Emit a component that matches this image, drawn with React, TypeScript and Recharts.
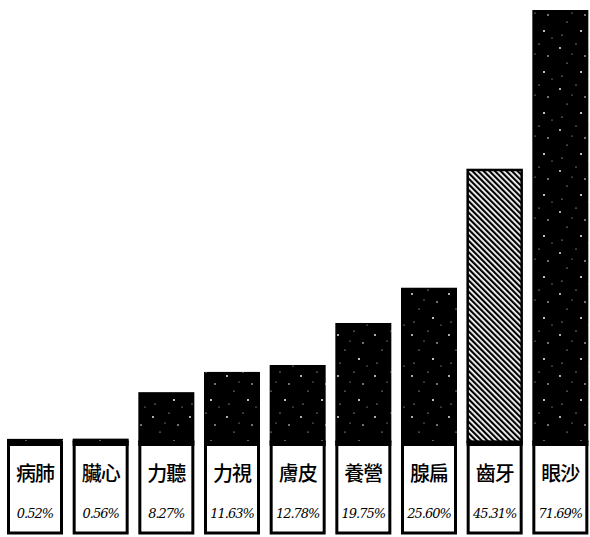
import React from 'react';
import { BarChart, Bar, XAxis, YAxis } from 'recharts';

const categories = ['病肺', '臟心', '力聽', '力視', '膚皮', '養營', '腺扁', '齒牙', '眼沙'];
const values = [0.52, 0.56, 8.27, 11.63, 12.78, 19.75, 25.6, 45.31, 71.69];
const valueLabels = ['0.52%', '0.56%', '8.27%', '11.63%', '12.78%', '19.75%', '25.60%', '45.31%', '71.69%'];

const data = categories.map((name, i) => ({ name, value: values[i], label: valueLabels[i] }));

const HATCHED_INDEX = 7;
const BOX_HEIGHT = 95;

const Shape = (props: any) => {
  const { x, y, width, height, index, payload } = props;
  const base = y + height;
  const hatched = index === HATCHED_INDEX;
  const cx = x + width / 2;
  return (
    <g>
      {hatched ? (
        <rect x={x + 1} y={y + 1} width={width - 2} height={Math.max(height - 1, 0)} fill="url(#hatch)" stroke="#000" strokeWidth={2.5} />
      ) : (
        <rect x={x} y={y} width={width} height={height} fill="url(#speck)" />
      )}
      <rect x={x + 1.5} y={base} width={width - 3} height={BOX_HEIGHT - 4} fill="#fff" stroke="#000" strokeWidth={3} />
      <rect x={x} y={base - 1} width={width} height={5} fill="#000" />
      <text x={cx} y={base + 39} textAnchor="middle" fontFamily="'Noto Sans CJK TC', 'Noto Sans CJK SC', sans-serif" fontWeight={500} fontSize={20} fill="#000" letterSpacing={-1}>
        {payload.name}
      </text>
      <text x={cx} y={base + 76} textAnchor="middle" fontFamily="'DejaVu Serif', serif" fontStyle="italic" fontSize={13} fill="#000" letterSpacing={-1}>
        {payload.label}
      </text>
    </g>
  );
};

export default function App() {
  return (
    <div style={{ position: 'absolute', left: 0, top: 0, width: 590, height: 537, background: '#fff', overflow: 'hidden' }}>
      <BarChart width={593} height={537} data={data} margin={{ top: 10, right: 0, left: 2, bottom: BOX_HEIGHT }} barSize={56}>
        <defs>
          <pattern id="hatch" patternUnits="userSpaceOnUse" width={4} height={4} patternTransform="rotate(-45)">
            <rect width={4} height={4} fill="#fff" />
            <rect x={0} y={0} width={2.2} height={4} fill="#000" />
          </pattern>
          <pattern id="speck" patternUnits="userSpaceOnUse" width={37} height={41}>
            <rect width={37} height={41} fill="#000" />
            <circle cx={5} cy={7} r={0.9} fill="#fff" />
            <circle cx={21} cy={3} r={0.6} fill="#fff" />
            <circle cx={30} cy={15} r={0.8} fill="#fff" />
            <circle cx={12} cy={22} r={0.6} fill="#fff" />
            <circle cx={26} cy={31} r={1} fill="#fff" />
            <circle cx={7} cy={35} r={0.6} fill="#fff" />
            <circle cx={17} cy={13} r={0.5} fill="#fff" />
            <circle cx={34} cy={38} r={0.5} fill="#fff" />
          </pattern>
        </defs>
        <XAxis dataKey="name" hide />
        <YAxis hide domain={[0, 71.69]} />
        <Bar dataKey="value" isAnimationActive={false} shape={<Shape />} />
      </BarChart>
    </div>
  );
}
